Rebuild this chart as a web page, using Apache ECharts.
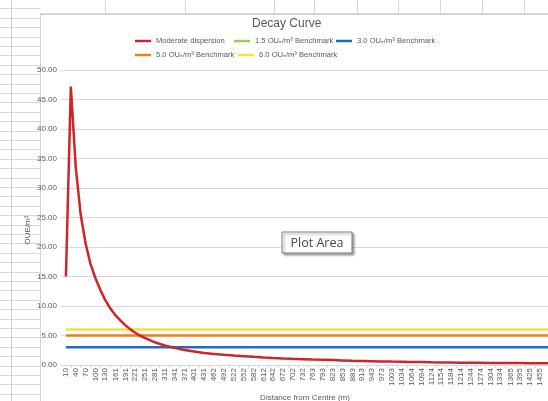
<!DOCTYPE html>
<html>
<head>
<meta charset="utf-8">
<script src="https://cdn.jsdelivr.net/npm/echarts@6/dist/echarts.min.js"></script>
<style>
  html, body { margin: 0; padding: 0; background: #fff; overflow: hidden; }
  #page { position: relative; width: 548px; height: 401px; overflow: hidden; }
  /* worksheet cells around the embedded chart */
  #rows { position: absolute; left: 0; top: 0; width: 40px; height: 401px;
          background-image: repeating-linear-gradient(to bottom, transparent 0, transparent 8.4px, #d8d8d8 8.4px, #d8d8d8 9.4px); }
  #rowsep { position: absolute; left: 11px; top: 0; width: 1px; height: 401px; background: #d0d0d0; }
  #colhead { position: absolute; left: 40px; top: 0; width: 508px; height: 13px; border-bottom: 1px solid #d8d8d8; }
  .col { position: absolute; top: 0; width: 1px; height: 13px; background: #d8d8d8; }
  #sheet { position: absolute; left: 40px; top: 14px; width: 520px; height: 400px; background: #fff;
           border-left: 1px solid #d4d4d4; border-top: 1px solid #d4d4d4; }
  #chart { position: absolute; left: 0; top: 0; width: 548px; height: 401px; }
</style>
</head>
<body>
<div id="page">
  <div id="rows"></div>
  <div id="rowsep"></div>
  <div id="colhead"></div>
  <div id="sheet"></div>
  <div id="chart"></div>
</div>
<script>
// Category tick labels along the distance axis (m)
const distanceTicks = [10, 40, 70, 100, 130, 161, 191, 221, 251, 281, 311, 341, 371, 401, 431, 462, 492, 522,
  552, 582, 612, 642, 672, 702, 732, 763, 793, 823, 853, 883, 913, 943, 973, 1003, 1034, 1064, 1094, 1124,
  1154, 1184, 1214, 1244, 1274, 1304, 1334, 1365, 1395, 1425, 1455];

// Moderate dispersion decay curve: distance (m) and odour concentration (OUE/m³)
const curveDistance = [10, 25, 40, 55, 70, 85, 100, 115, 130, 145, 160, 175, 190, 205, 220, 235, 250,
  281, 311, 341, 371, 401, 431, 462, 492, 522, 552, 582, 612, 642, 672, 702, 732, 763, 793, 823, 853,
  883, 913, 943, 973, 1003, 1034, 1064, 1094, 1124, 1154, 1184, 1214, 1244, 1274, 1304, 1334, 1365,
  1395, 1425, 1455, 1485];
const curveValue = [15.0, 47.2, 33.5, 25.5, 20.6, 17.1, 14.7, 12.7, 11.0, 9.6, 8.5, 7.6, 6.8, 6.1, 5.5, 5.0, 4.6,
  3.85, 3.3, 2.9, 2.55, 2.28, 2.05, 1.88, 1.74, 1.61, 1.5, 1.39, 1.29, 1.2, 1.12, 1.05, 0.99, 0.93, 0.88, 0.83, 0.78,
  0.73, 0.69, 0.65, 0.61, 0.58, 0.55, 0.52, 0.49, 0.46, 0.44, 0.42, 0.40, 0.38, 0.37, 0.35, 0.34, 0.33,
  0.32, 0.31, 0.30, 0.29];

// Benchmark levels (OUE/m³); the 1.5 benchmark has no plotted points
const benchmarkNames = ['1.5 OUₑ/m³ Benchmark', '3.0 OUₑ/m³ Benchmark', '5.0 OUₑ/m³ Benchmark', '6.0 OUₑ/m³ Benchmark'];
const benchmarkLevels = [null, 3.0, 5.0, 6.0];
const benchmarkColors = ['#92d050', '#1f6fb8', '#e8801f', '#f5e23a'];
const curveName = 'Moderate dispersion';

// worksheet column separators
[105, 185, 274, 314, 357, 398, 440, 482, 524].forEach(x => {
  const d = document.createElement('div');
  d.className = 'col';
  d.style.left = (x - 40) + 'px';
  document.getElementById('colhead').appendChild(d);
});

const xStart = distanceTicks[0];
const xEnd = curveDistance[curveDistance.length - 1];
const tickBoundaries = [];
for (let i = 0; i < distanceTicks.length - 1; i++) tickBoundaries.push((distanceTicks[i] + distanceTicks[i + 1]) / 2);

const textColor = '#595959';
const font = '"Liberation Sans", Arial, sans-serif';

const series = [{
  name: curveName,
  type: 'line',
  data: curveDistance.map((d, i) => [d, curveValue[i]]),
  symbol: 'none',
  lineStyle: { color: '#d0242c', width: 2.5 },
  itemStyle: { color: '#d0242c' },
  z: 5
}];
benchmarkNames.forEach((name, i) => {
  const lvl = benchmarkLevels[i];
  series.push({
    name: name,
    type: 'line',
    data: lvl == null ? [] : [[xStart, lvl], [xEnd, lvl]],
    symbol: 'none',
    lineStyle: { color: benchmarkColors[i], width: 2.5 },
    itemStyle: { color: benchmarkColors[i] },
    z: 3
  });
});

// legend laid out in two rows of fixed-width columns
const legendSlots = [
  { name: curveName, left: 135, top: 37 },
  { name: benchmarkNames[0], left: 234, top: 37 },
  { name: benchmarkNames[1], left: 336, top: 37 },
  { name: benchmarkNames[2], left: 135, top: 51 },
  { name: benchmarkNames[3], left: 238, top: 51 }
];
const legends = legendSlots.map(s => ({
  data: [s.name],
  left: s.left,
  top: s.top,
  icon: 'rect',
  itemWidth: 16,
  itemHeight: 2.5,
  padding: 0,
  textStyle: { fontSize: 7.6, color: textColor, fontFamily: font }
}));

const chart = echarts.init(document.getElementById('chart'), null, { renderer: 'canvas' });
chart.setOption({
  animation: false,
  backgroundColor: 'transparent',
  title: {
    text: 'Decay Curve',
    left: 252,
    top: 18,
    padding: 0,
    textStyle: { fontSize: 12, fontWeight: 'normal', color: textColor, fontFamily: font }
  },
  legend: legends,
  grid: { left: 61, right: -10, top: 70, bottom: 36, outerBoundsMode: 'none', containLabel: false },
  xAxis: {
    type: 'value',
    min: -5,
    max: 1510,
    name: 'Distance from Centre (m)',
    nameLocation: 'middle',
    nameGap: 27,
    nameTextStyle: { fontSize: 8, color: textColor, fontFamily: font, padding: [0, 9, 0, 0] },
    axisLine: { show: true, lineStyle: { color: '#d9d9d9', width: 1 } },
    axisTick: { show: true, customValues: tickBoundaries, length: 3, lineStyle: { color: '#d9d9d9' } },
    axisLabel: {
      customValues: distanceTicks,
      rotate: 90,
      margin: 3,
      fontSize: 8,
      color: textColor,
      fontFamily: font,
      formatter: v => String(v)
    },
    splitLine: { show: false }
  },
  yAxis: {
    type: 'value',
    min: 0,
    max: 50,
    interval: 5,
    axisLine: { show: false },
    axisTick: { show: false },
    axisLabel: { fontSize: 8, color: textColor, fontFamily: font, margin: 4, formatter: v => v.toFixed(2) },
    splitLine: { lineStyle: { color: '#d9d9d9', width: 1 } }
  },
  graphic: [
    {
      type: 'text',
      x: 28,
      y: 230,
      rotation: Math.PI / 2,
      style: { text: 'OUE/m³', fill: textColor, font: '8px ' + font, textAlign: 'center', textVerticalAlign: 'middle' }
    },
    {
      type: 'rect',
      x: 282,
      y: 232,
      z: 100,
      zlevel: 1,
      shape: { x: 0, y: 0, width: 70, height: 21 },
      style: { fill: '#ffffff', stroke: '#7a7a7a', lineWidth: 1,
               shadowBlur: 2, shadowOffsetX: 2, shadowOffsetY: 2, shadowColor: 'rgba(0,0,0,0.35)' }
    },
    {
      type: 'text',
      x: 317,
      y: 243,
      z: 101,
      zlevel: 1,
      style: { text: 'Plot Area', fill: '#444444', font: '12.5px "Open Sans", "Noto Sans", sans-serif',
               textAlign: 'center', textVerticalAlign: 'middle' }
    }
  ],
  series: series
});
</script>
</body>
</html>
